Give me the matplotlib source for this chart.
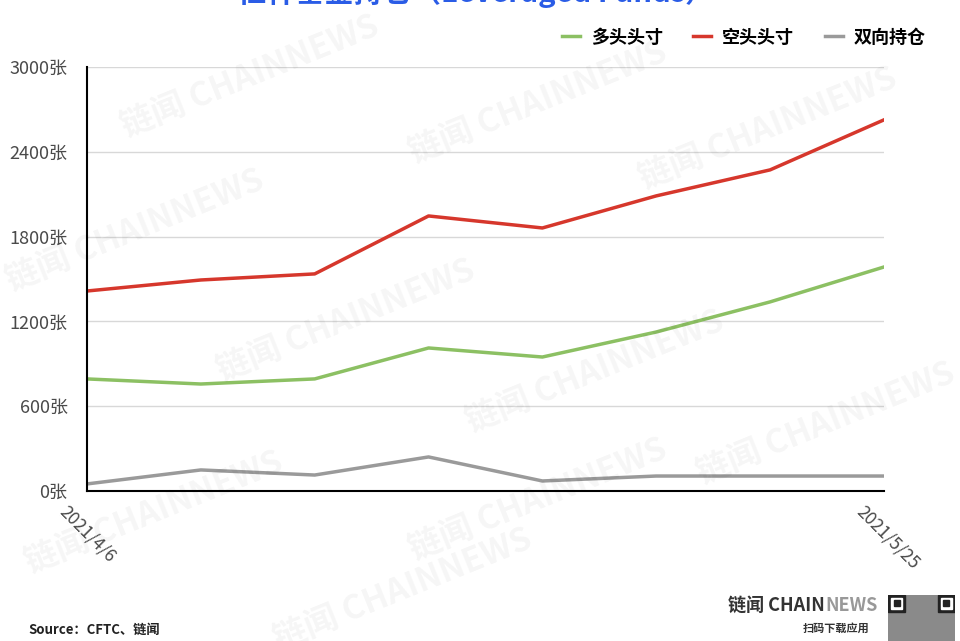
import matplotlib
import matplotlib.pyplot as plt
import matplotlib.transforms as mtransforms
from matplotlib.patches import Rectangle
import numpy as np
matplotlib.use('Agg')

plt.rcParams['font.family'] = ['Noto Sans CJK SC', 'DejaVu Sans']

dates = ['2021/4/6', '2021/4/13', '2021/4/20', '2021/4/27',
         '2021/5/4', '2021/5/11', '2021/5/18', '2021/5/25']
long_pos = [793, 757, 793, 1012, 948, 1125, 1338, 1585]
short_pos = [1415, 1493, 1536, 1946, 1861, 2088, 2272, 2626]
spread_pos = [50, 149, 113, 241, 71, 106, 106, 106]
series_names = ['多头头寸', '空头头寸', '双向持仓']
y_ticks = [0, 600, 1200, 1800, 2400, 3000]


def plot():
    """Draw the chart and save it"""
    fig = plt.figure(figsize=(9.6, 6.41), dpi=100)
    ax = fig.add_axes([0.0906, 0.234, 0.8302, 0.6615])

    # faint watermarks, kept inside the figure
    for wx, wy in [(0.26, 0.88), (0.56, 0.84), (0.8, 0.8), (0.14, 0.64),
                   (0.36, 0.5), (0.62, 0.42), (0.86, 0.34), (0.56, 0.22),
                   (0.16, 0.2), (0.42, 0.08)]:
        fig.text(wx, wy, '链闻 CHAINNEWS', fontsize=24, fontweight='bold',
                 color='#000000', alpha=0.04, rotation=22,
                 ha='center', va='center', zorder=0)

    x = np.arange(len(dates))
    ax.plot(x, long_pos, color='#8cc063', lw=2.5, label=series_names[0])
    ax.plot(x, short_pos, color='#d6372c', lw=2.5, label=series_names[1])
    ax.plot(x, spread_pos, color='#9a9a9a', lw=2.5, label=series_names[2])

    ax.set_xlim(0, len(dates) - 1)
    ax.set_ylim(0, 3000)
    ax.set_yticks(y_ticks)
    ax.set_yticklabels([f'{v}张' for v in y_ticks], fontsize=13, color='#4a4a4a')
    ax.set_xticks([])
    # only first and last date shown, slanted below the axis
    shift = mtransforms.ScaledTranslation(-28 / 100, -22 / 100, fig.dpi_scale_trans)
    for i in [0, len(dates) - 1]:
        ax.text(x[i], 0, dates[i], rotation=-45, ha='left', va='baseline',
                rotation_mode='anchor', fontsize=12.5, color='#4a4a4a',
                transform=ax.get_xaxis_transform() + shift)
    ax.tick_params(axis='y', length=0, pad=14)
    ax.grid(axis='y', color='#d8d8d8', lw=1)
    ax.set_axisbelow(True)
    for side in ['top', 'right']:
        ax.spines[side].set_visible(False)
    ax.spines['left'].set_linewidth(1.5)
    ax.spines['bottom'].set_linewidth(1.5)
    ax.patch.set_alpha(0)

    ax.legend(loc='lower right', bbox_to_anchor=(1.073, 1.01), ncol=3,
              frameon=False, handlelength=1.0, handletextpad=0.6,
              columnspacing=1.7, prop={'weight': 'bold', 'size': 13})

    fig.text(0.495, 1.012, '杠杆基金持仓（Leveraged Funds）', fontsize=21,
             fontweight='bold', color='#2a5ce6', ha='center', va='center')

    fig.text(0.03, 0.006, 'Source：CFTC、链闻', fontsize=9.5, color='#222222',
             fontweight='bold', ha='left', va='bottom')
    fig.text(0.758, 0.041, '链闻 CHAIN', fontsize=13, fontweight='bold',
             color='#333333', ha='left', va='bottom')
    fig.text(0.86, 0.041, 'NEWS', fontsize=13, fontweight='bold',
             color='#999999', ha='left', va='bottom')
    fig.text(0.906, 0.01, '扫码下载应用', fontsize=8, fontweight='bold',
             color='#333333', ha='right', va='bottom')

    # simple stand-in for the QR code corner
    qr = fig.add_axes([0.925, 0.0, 0.07, 0.072])
    qr.set_xlim(0, 10)
    qr.set_ylim(0, 7)
    qr.axis('off')
    qr.add_patch(Rectangle((0, 0), 10, 7, color='#8a8a8a'))
    for fx, fy in [(0, 4.4), (7.4, 4.4)]:
        qr.add_patch(Rectangle((fx, fy), 2.6, 2.6, color='#222222'))
        qr.add_patch(Rectangle((fx + 0.45, fy + 0.45), 1.7, 1.7, color='white'))
        qr.add_patch(Rectangle((fx + 0.85, fy + 0.85), 0.9, 0.9, color='#222222'))

    fig.savefig('out.png', dpi=100)


plot()
